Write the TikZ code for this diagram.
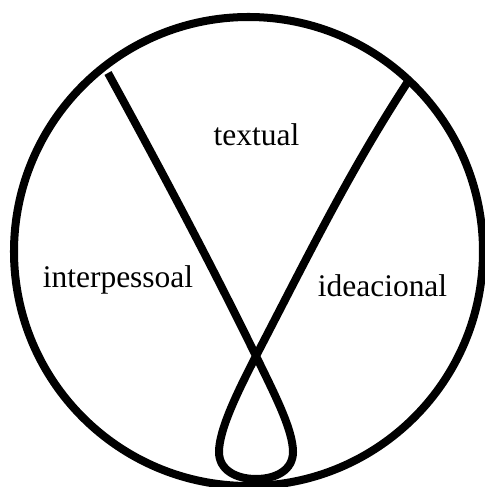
\documentclass[tikz,border=0pt]{standalone}
\usepackage{fontspec}
\setmainfont{Liberation Serif}
\usetikzlibrary{calc}
\tikzset{
  ring/.style={draw=black, line width=5.7pt},
  strand/.style={draw=black, line width=5.7pt, line join=round},
  lab/.style={font=\fontsize{22.4}{26}\selectfont, anchor=base, inner sep=0pt},
}
\begin{document}
\begin{tikzpicture}[x=1cm,y=1cm]
\useasboundingbox (0,0) rectangle (12.125,12.175);

% ============ outer circle =================================================
\coordinate (ctr) at (6.2125,5.8875);
\draw[ring] (ctr) circle[radius=5.8625];

% ============ the crossed strand with its loop =============================
\coordinate (topL)  at (2.70,10.35);
\coordinate (cross) at (6.40,3.275);
\coordinate (loopB) at (6.40,0.20);
\coordinate (topR)  at (10.175,10.10);
\draw[strand] (topL)
    .. controls (4.00,7.975) and (5.2375,5.65) .. (cross)
    .. controls (6.875,2.30) and (7.325,1.425) .. (7.325,0.875)
    .. controls (7.325,0.425) and (6.90,0.20) .. (loopB)
    .. controls (5.90,0.20) and (5.475,0.425) .. (5.475,0.875)
    .. controls (5.475,1.425) and (5.925,2.35) .. (cross)
    .. controls (7.70,5.775) and (8.7125,7.85) .. (topR);

% ============ labels =======================================================
\node[lab] (textual) at (6.4125,8.525) {textual};
\node[lab] (interp)  at (2.95,4.975) {interpessoal};
\node[lab] (ideac)   at (9.5625,4.75) {ideacional};

\end{tikzpicture}
\end{document}
